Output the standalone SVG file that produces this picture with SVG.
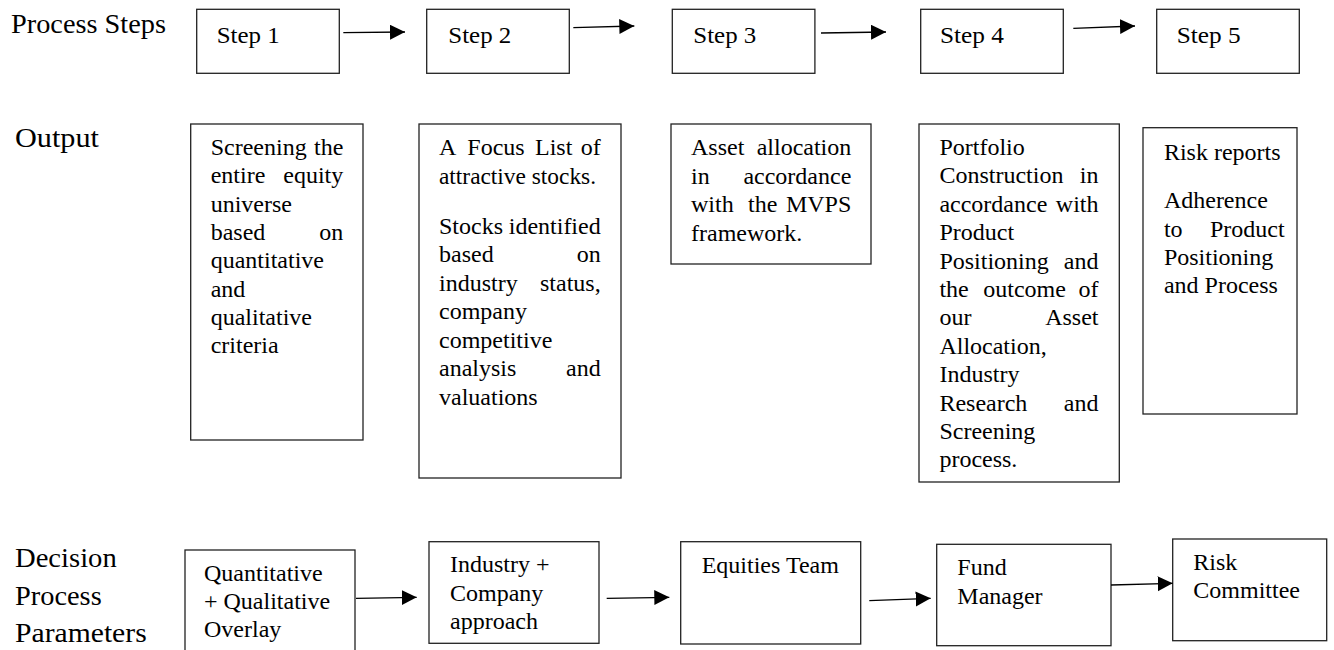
<svg xmlns="http://www.w3.org/2000/svg" width="1334" height="650" viewBox="0 0 1334 650">
<defs>
<marker id="ah" markerUnits="userSpaceOnUse" markerWidth="16" markerHeight="16" refX="15" refY="7.5" orient="auto"><path d="M0,0 L15,7.5 L0,15 z" fill="#000"/></marker>
<style>
.box{fill:#fff;stroke:#222;stroke-width:1.3}
text{font-family:"Liberation Serif","Times New Roman",serif;fill:#000}
.t{font-size:24px}
.lbl{font-size:27px}
.e{text-anchor:end}
.conn path{fill:none;stroke:#000;stroke-width:1.3;marker-end:url(#ah)}
</style>
</defs>
<rect width="1334" height="650" fill="#fff"/>

<g id="row-labels">
<text class="lbl" x="11" y="33.3" textLength="155" lengthAdjust="spacingAndGlyphs">Process Steps</text>
<text class="lbl" x="15" y="147" textLength="84" lengthAdjust="spacingAndGlyphs">Output</text>
<text class="lbl" x="15" y="567.3" textLength="101.7" lengthAdjust="spacingAndGlyphs">Decision</text>
<text class="lbl" x="15" y="605" textLength="86.7" lengthAdjust="spacingAndGlyphs">Process</text>
<text class="lbl" x="15" y="642.3" textLength="131.7" lengthAdjust="spacingAndGlyphs">Parameters</text>
</g>

<g id="step1"><rect class="box" x="196.7" y="9.3" width="142.6" height="64"/><text class="t" x="216.7" y="43.3" textLength="63" lengthAdjust="spacingAndGlyphs">Step 1</text></g>
<g id="step2"><rect class="box" x="426.7" y="9.3" width="142.6" height="64"/><text class="t" x="448.3" y="43.3" textLength="63" lengthAdjust="spacingAndGlyphs">Step 2</text></g>
<g id="step3"><rect class="box" x="672.3" y="9.3" width="142.6" height="64"/><text class="t" x="693.3" y="43.3" textLength="63" lengthAdjust="spacingAndGlyphs">Step 3</text></g>
<g id="step4"><rect class="box" x="920.7" y="9.3" width="142.6" height="64"/><text class="t" x="940" y="43.3" textLength="64" lengthAdjust="spacingAndGlyphs">Step 4</text></g>
<g id="step5"><rect class="box" x="1156.7" y="9.3" width="142.6" height="64"/><text class="t" x="1176.7" y="43.3" textLength="64" lengthAdjust="spacingAndGlyphs">Step 5</text></g>

<g id="out1">
<rect class="box" x="190.7" y="124" width="172.3" height="316"/>
<text class="t" x="210.7" y="155">Screening</text><text class="t e" x="343.3" y="155">the</text>
<text class="t" x="210.7" y="183.3">entire</text><text class="t e" x="343.3" y="183.3">equity</text>
<text class="t" x="210.7" y="211.7">universe</text>
<text class="t" x="210.7" y="240">based</text><text class="t e" x="343.3" y="240">on</text>
<text class="t" x="210.7" y="268.3">quantitative</text>
<text class="t" x="210.7" y="296.7">and</text>
<text class="t" x="210.7" y="325">qualitative</text>
<text class="t" x="210.7" y="353.3">criteria</text>
</g>

<g id="out2">
<rect class="box" x="419" y="124" width="202" height="354"/>
<text class="t" x="439" y="155">A</text><text class="t" x="467.3" y="155">Focus</text><text class="t" x="535" y="155">List</text><text class="t e" x="600.7" y="155">of</text>
<text class="t" x="439" y="183.5" textLength="157" lengthAdjust="spacingAndGlyphs">attractive stocks.</text>
<text class="t" x="439" y="233.5">Stocks</text><text class="t e" x="600.7" y="233.5">identified</text>
<text class="t" x="439" y="262">based</text><text class="t e" x="600.7" y="262">on</text>
<text class="t" x="439" y="290.5">industry</text><text class="t e" x="600.7" y="290.5">status,</text>
<text class="t" x="439" y="319">company</text>
<text class="t" x="439" y="347.5">competitive</text>
<text class="t" x="439" y="376">analysis</text><text class="t e" x="600.7" y="376">and</text>
<text class="t" x="439" y="404.5">valuations</text>
</g>

<g id="out3">
<rect class="box" x="671" y="124" width="200" height="140"/>
<text class="t" x="691" y="155">Asset</text><text class="t e" x="851.3" y="155">allocation</text>
<text class="t" x="691" y="183.5">in</text><text class="t e" x="851.3" y="183.5">accordance</text>
<text class="t" x="691" y="212">with</text><text class="t" x="748.1" y="212">the</text><text class="t e" x="851.3" y="212">MVPS</text>
<text class="t" x="691" y="240.5">framework.</text>
</g>

<g id="out4">
<rect class="box" x="919" y="124" width="200.3" height="358"/>
<text class="t" x="939.4" y="155">Portfolio</text>
<text class="t" x="939.4" y="183.4">Construction</text><text class="t e" x="1098.5" y="183.4">in</text>
<text class="t" x="939.4" y="211.8">accordance</text><text class="t e" x="1098.5" y="211.8">with</text>
<text class="t" x="939.4" y="240.2">Product</text>
<text class="t" x="939.4" y="268.6">Positioning</text><text class="t e" x="1098.5" y="268.6">and</text>
<text class="t" x="939.4" y="297">the</text><text class="t" x="983.3" y="297">outcome</text><text class="t e" x="1098.5" y="297">of</text>
<text class="t" x="939.4" y="325.4">our</text><text class="t e" x="1098.5" y="325.4">Asset</text>
<text class="t" x="939.4" y="353.8">Allocation,</text>
<text class="t" x="939.4" y="382.2">Industry</text>
<text class="t" x="939.4" y="410.6">Research</text><text class="t e" x="1098.5" y="410.6">and</text>
<text class="t" x="939.4" y="439">Screening</text>
<text class="t" x="939.4" y="467.4">process.</text>
</g>

<g id="out5">
<rect class="box" x="1143" y="127.7" width="154" height="286.3"/>
<text class="t" x="1163.9" y="160">Risk reports</text>
<text class="t" x="1163.9" y="208.3">Adherence</text>
<text class="t" x="1163.9" y="236.7">to</text><text class="t e" x="1284.7" y="236.7">Product</text>
<text class="t" x="1163.9" y="265">Positioning</text>
<text class="t" x="1163.9" y="293.3">and Process</text>
</g>

<g id="param1">
<rect class="box" x="185" y="550" width="170" height="110"/>
<text class="t" x="204" y="580.7">Quantitative</text>
<text class="t" x="204" y="609.3">+ Qualitative</text>
<text class="t" x="204" y="636.7">Overlay</text>
</g>
<g id="param2">
<rect class="box" x="429" y="541.7" width="170" height="101.6"/>
<text class="t" x="450" y="571.7">Industry +</text>
<text class="t" x="450" y="600.7">Company</text>
<text class="t" x="450" y="629.3">approach</text>
</g>
<g id="param3">
<rect class="box" x="680.7" y="541.7" width="180" height="102.3"/>
<text class="t" x="701.7" y="572.7">Equities Team</text>
</g>
<g id="param4">
<rect class="box" x="936.7" y="544.3" width="174.3" height="101.4"/>
<text class="t" x="957.3" y="575">Fund</text>
<text class="t" x="957.3" y="604">Manager</text>
</g>
<g id="param5">
<rect class="box" x="1172.7" y="539" width="154" height="101.7"/>
<text class="t" x="1193.3" y="570">Risk</text>
<text class="t" x="1193.3" y="598.3">Committee</text>
</g>

<g id="connectors" class="conn">
<path d="M343.3,32.7 L405,32"/>
<path d="M573.3,27.7 L634.3,26"/>
<path d="M821,33 L886,32"/>
<path d="M1073.3,28.3 L1135,26"/>
<path d="M356,598.3 L416.7,597.3"/>
<path d="M606.7,598.3 L669.3,597.3"/>
<path d="M869.3,600.7 L930.7,598.3"/>
<path d="M1111,585 L1172.7,583.3"/>
</g>
</svg>
